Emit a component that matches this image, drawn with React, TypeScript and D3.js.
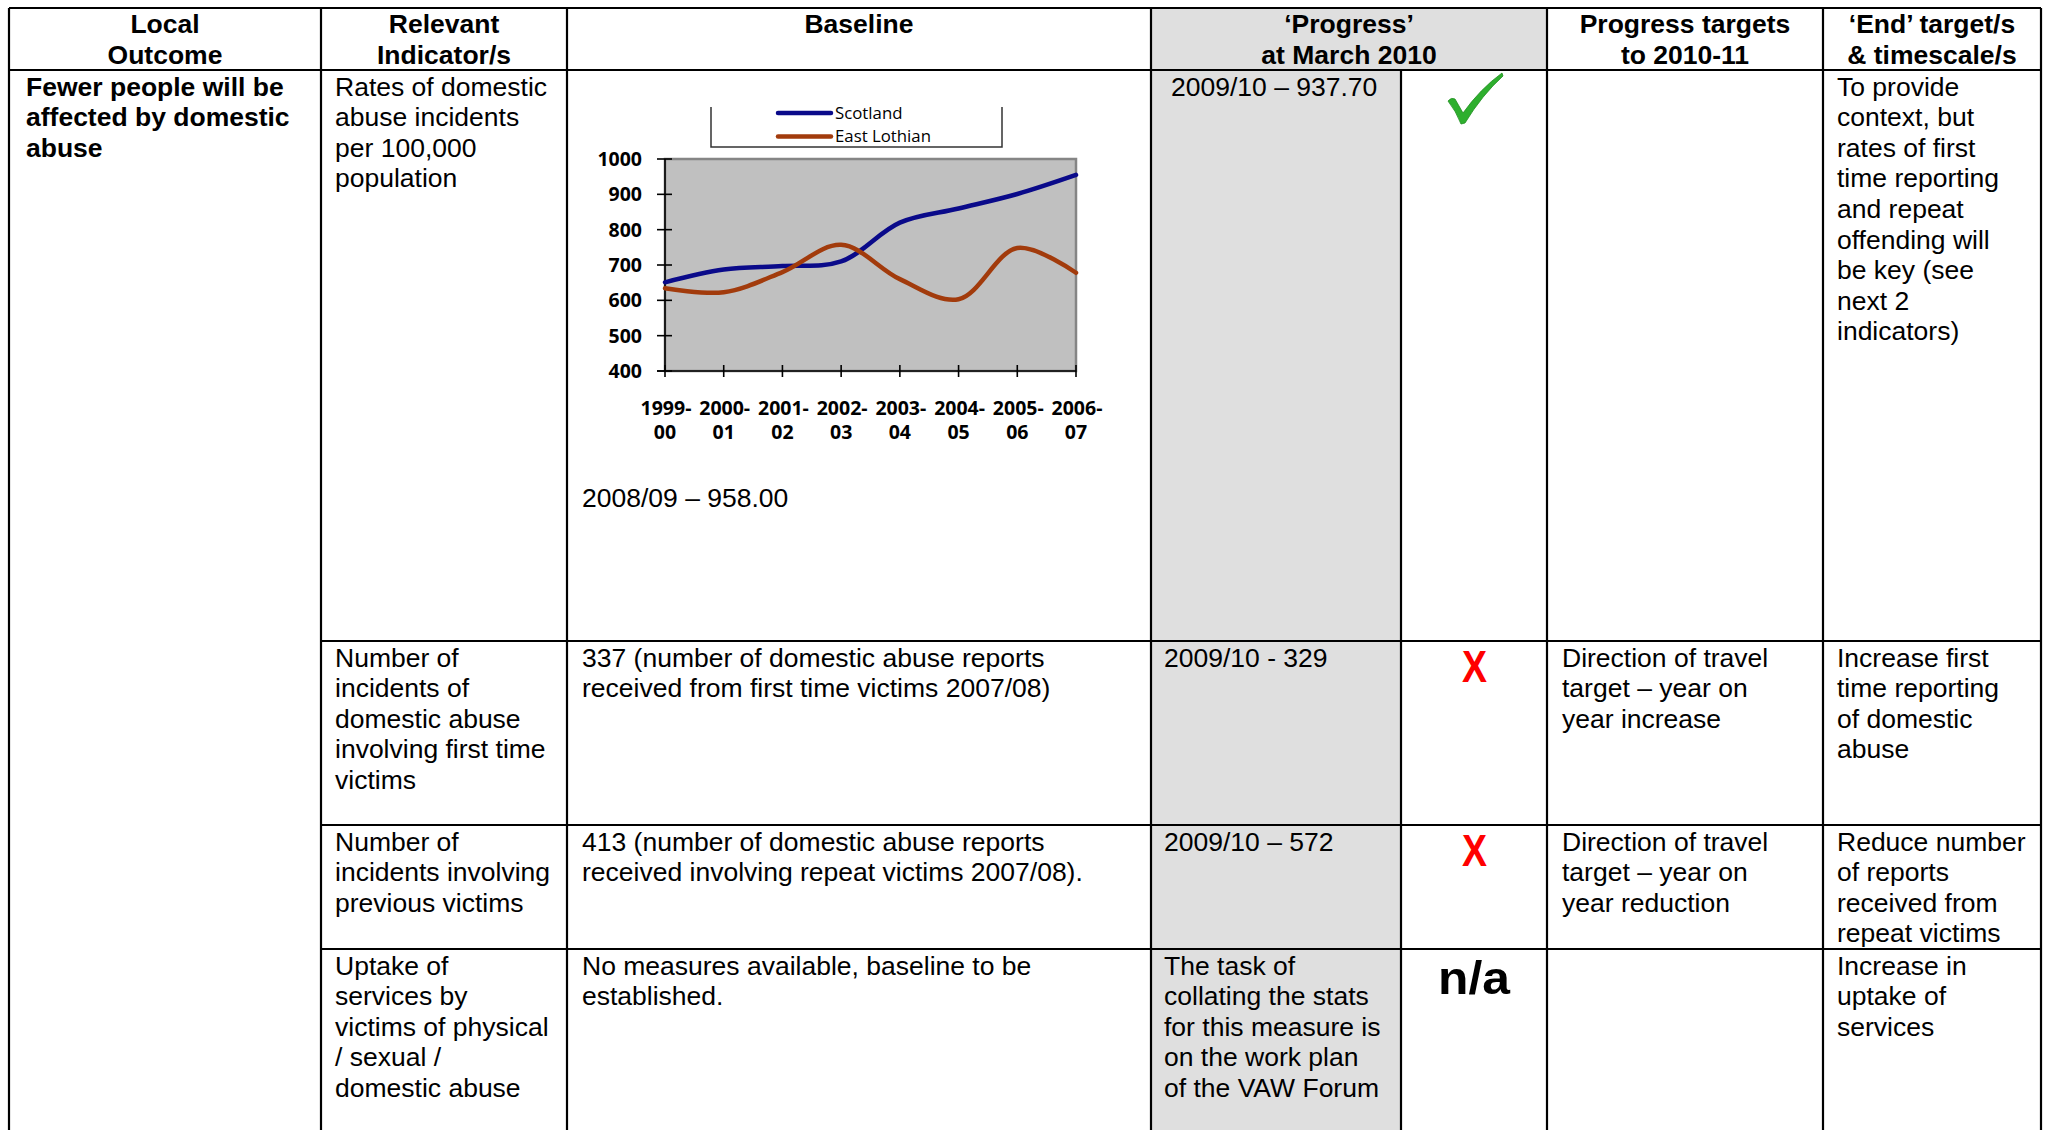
import React from "react";
import * as d3 from "d3";

// ---- chart data ----
const categories = ["1999-00", "2000-01", "2001-02", "2002-03", "2003-04", "2004-05", "2005-06", "2006-07"];
const scotland = [651, 687, 697, 710, 820, 860, 901, 955];
const eastLothian = [634, 623, 680, 757, 660, 603, 748, 678];
const yTicks = [400, 500, 600, 700, 800, 900, 1000];
const seriesNames = ["Scotland", "East Lothian"];
const seriesColors = ["#0A0A8A", "#A23B0C"];

// ---- table text ----
const headers = [
  ["Local", "Outcome"],
  ["Relevant", "Indicator/s"],
  ["Baseline"],
  ["\u2018Progress\u2019", "at March 2010"],
  ["Progress targets", "to 2010-11"],
  ["\u2018End\u2019 target/s", "& timescale/s"],
];
const outcome = ["Fewer people will be", "affected by domestic", "abuse"];
const indicators = [
  ["Rates of domestic", "abuse incidents", "per 100,000", "population"],
  ["Number of", "incidents of", "domestic abuse", "involving first time", "victims"],
  ["Number of", "incidents involving", "previous victims"],
  ["Uptake of", "services by", "victims of physical", "/ sexual /", "domestic abuse"],
];
const baselines = [
  ["2008/09 \u2013 958.00"],
  ["337 (number of domestic abuse reports", "received from first time victims 2007/08)"],
  ["413 (number of domestic abuse reports", "received involving repeat victims 2007/08)."],
  ["No measures available, baseline to be", "established."],
];
const progress = [
  ["2009/10 \u2013 937.70"],
  ["2009/10 - 329"],
  ["2009/10 \u2013 572"],
  ["The task of", "collating the stats", "for this measure is", "on the work plan", "of the VAW Forum"],
];
const statusMarks = ["check", "X", "X", "n/a"];
const targets = [
  [],
  ["Direction of travel", "target \u2013 year on", "year increase"],
  ["Direction of travel", "target \u2013 year on", "year reduction"],
  [],
];
const endTargets = [
  ["To provide", "context, but", "rates of first", "time reporting", "and repeat", "offending will", "be key (see", "next 2", "indicators)"],
  ["Increase first", "time reporting", "of domestic", "abuse"],
  ["Reduce number", "of reports", "received from", "repeat victims"],
  ["Increase in", "uptake of", "services"],
];

const FONT = "'Liberation Sans', Arial, sans-serif";
const FS = 26.5;
const LH = 30.6;

function Lines({ x, y, lines, bold = false, anchor = "start" }: any) {
  return (
    <text x={x} y={y} fontFamily={FONT} fontSize={FS} fontWeight={bold ? "bold" : "normal"} textAnchor={anchor} fill="#000">
      {lines.map((l: string, i: number) => (
        <tspan key={i} x={x} dy={i === 0 ? 0 : LH}>{l}</tspan>
      ))}
    </text>
  );
}

export default function App() {
  const W = 2050, H = 1130;
  const colX = [9, 321, 567, 1151, 1401, 1547, 1823, 2041];
  const rowY = [8, 70, 641, 825, 949];
  const bodyRows = rowY.slice(1);

  // chart scales
  const x = d3.scalePoint<string>().domain(categories).range([665, 1076]);
  const y = d3.scaleLinear().domain([400, 1000]).range([371, 159]);
  const line = d3
    .line<number>()
    .x((_, i) => x(categories[i]) as number)
    .y((d) => y(d))
    .curve(d3.curveCatmullRom.alpha(0.5));
  const plotL = x(categories[0]) as number;
  const plotR = x(categories[categories.length - 1]) as number;
  const plotT = y(1000);
  const plotB = y(400);
  const chartFont = "'Open Sans', sans-serif";

  const headerCenters = [
    (colX[0] + colX[1]) / 2,
    (colX[1] + colX[2]) / 2,
    (colX[2] + colX[3]) / 2,
    (colX[3] + colX[5]) / 2,
    (colX[5] + colX[6]) / 2,
    (colX[6] + colX[7]) / 2,
  ];
  const first = (r: number) => bodyRows[r] + 25.5;
  const markX = (colX[4] + colX[5]) / 2;

  return (
    <svg width={W} height={H} style={{ position: "absolute", left: 0, top: 0, background: "#fff" }}>
      {/* shaded progress column */}
      <rect x={colX[3]} y={rowY[0]} width={colX[5] - colX[3]} height={rowY[1] - rowY[0]} fill="#DFDFDF" />
      <rect x={colX[3]} y={rowY[1]} width={colX[4] - colX[3]} height={H - rowY[1]} fill="#DFDFDF" />

      {/* grid */}
      <g stroke="#000" strokeWidth={2.2}>
        <line x1={colX[0]} x2={colX[7]} y1={rowY[0]} y2={rowY[0]} />
        <line x1={colX[0]} x2={colX[7]} y1={rowY[1]} y2={rowY[1]} />
        {rowY.slice(2).map((ry) => (
          <line key={ry} x1={colX[1]} x2={colX[7]} y1={ry} y2={ry} />
        ))}
        {colX.map((cx, i) =>
          i === 4 ? (
            <line key={cx} x1={cx} x2={cx} y1={rowY[1]} y2={H} />
          ) : (
            <line key={cx} x1={cx} x2={cx} y1={rowY[0]} y2={H} />
          )
        )}
      </g>

      {/* header */}
      {headers.map((h, i) => (
        <Lines key={i} x={headerCenters[i]} y={33} lines={h} bold anchor="middle" />
      ))}

      {/* body text */}
      <Lines x={26} y={first(0)} lines={outcome} bold />
      {indicators.map((l, r) => (
        <Lines key={"ind" + r} x={335} y={first(r)} lines={l} />
      ))}
      {baselines.map((l, r) =>
        r === 0 ? (
          <Lines key={"b" + r} x={582} y={507} lines={l} />
        ) : (
          <Lines key={"b" + r} x={582} y={first(r)} lines={l} />
        )
      )}
      {progress.map((l, r) => (
        <Lines key={"p" + r} x={r === 0 ? 1171 : 1164} y={first(r)} lines={l} />
      ))}
      {targets.map((l, r) => (
        <Lines key={"t" + r} x={1562} y={first(r)} lines={l} />
      ))}
      {endTargets.map((l, r) => (
        <Lines key={"e" + r} x={1837} y={first(r)} lines={l} />
      ))}

      {/* status marks */}
      {statusMarks.map((m, r) => {
        if (m === "check") {
          const cy = bodyRows[r];
          return (
            <path
              key={r}
              transform={`translate(${markX - 26},${cy + 3})`}
              d="M0,28 Q3,24 7,26 L15,40 Q32,16 54,0 L55,3 Q34,22 17,50 L13,51 Q8,38 0,28 Z"
              fill="#2EAF2E"
              stroke="#1E8E1E"
              strokeWidth={0.8}
            />
          );
        }
        if (m === "X") {
          return (
            <text
              key={r}
              x={markX - 12}
              y={bodyRows[r] + 41}
              fontFamily={FONT}
              fontSize={45}
              fontWeight="bold"
              fill="#FF0000"
              textLength={25}
              lengthAdjust="spacingAndGlyphs"
            >
              X
            </text>
          );
        }
        return (
          <text
            key={r}
            x={markX - 36}
            y={bodyRows[r] + 45}
            fontFamily={FONT}
            fontSize={47}
            fontWeight="bold"
            fill="#000"
            textLength={72}
            lengthAdjust="spacingAndGlyphs"
          >
            n/a
          </text>
        );
      })}

      {/* ---- embedded chart ---- */}
      {/* legend */}
      <g stroke="#333" strokeWidth={1.5} fill="none">
        <polyline points={`711,107 711,147 1002,147 1002,107`} />
      </g>
      {seriesNames.map((n, i) => {
        const ly = 113 + i * 23.5;
        return (
          <g key={n}>
            <line x1={778} x2={831} y1={ly} y2={ly} stroke={seriesColors[i]} strokeWidth={4.5} strokeLinecap="round" />
            <text x={835} y={ly + 5.5} fontFamily={chartFont} fontSize={16.8} fill="#000">
              {n}
            </text>
          </g>
        );
      })}

      {/* plot area */}
      <rect x={plotL} y={plotT} width={plotR - plotL} height={plotB - plotT} fill="#C0C0C0" stroke="#858585" strokeWidth={2.5} />

      {/* axes */}
      <g stroke="#000" strokeWidth={1.6}>
        <line x1={plotL} x2={plotL} y1={plotT} y2={plotB} />
        <line x1={plotL - 8} x2={plotR} y1={plotB} y2={plotB} />
        {yTicks.map((t) => (
          <line key={t} x1={plotL - 8} x2={plotL + 7} y1={y(t)} y2={y(t)} />
        ))}
        {categories.map((c) => (
          <line key={c} x1={x(c)} x2={x(c)} y1={plotB - 6} y2={plotB + 6} />
        ))}
      </g>
      {yTicks.map((t) => (
        <text key={t} x={642} y={y(t) + 7} textAnchor="end" fontFamily={chartFont} fontSize={19.5} fontWeight="bold" fill="#000">
          {t}
        </text>
      ))}
      {categories.map((c) => {
        const [a, b] = c.split("-");
        return (
          <text key={c} x={x(c)} y={415} textAnchor="middle" fontFamily={chartFont} fontSize={19.5} fontWeight="bold" fill="#000">
            <tspan x={x(c) + 1}>{a + "-"}</tspan>
            <tspan x={x(c)} dy={24}>{b}</tspan>
          </text>
        );
      })}

      {/* series */}
      {[scotland, eastLothian].map((s, i) => (
        <path key={i} d={line(s) as string} fill="none" stroke={seriesColors[i]} strokeWidth={4.5} strokeLinecap="round" />
      ))}
    </svg>
  );
}
